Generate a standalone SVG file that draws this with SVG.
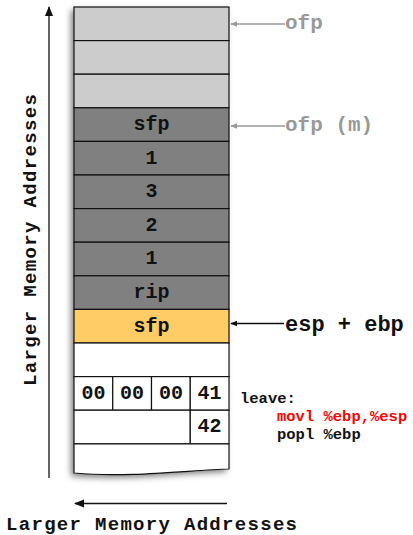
<svg xmlns="http://www.w3.org/2000/svg" width="413" height="535" viewBox="0 0 413 535">
<style>
.cell{stroke:#111;stroke-width:1.2}
.lg{fill:#cccccc}.dg{fill:#808080}.or{fill:#ffcc66}.wh{fill:#ffffff}
text{font-family:"Liberation Mono","Courier New",monospace;font-weight:bold}
.ct{font-size:20px;text-anchor:middle;fill:#111}
.gl{font-size:21px;fill:#999999}
.bl{font-size:22px;fill:#111}
.code{font-size:15.5px;fill:#111}
.red{fill:#ff0000}
.axis{font-size:19px;fill:#111}
</style>
<defs>
<filter id="sh" x="-20%" y="-10%" width="140%" height="120%">
<feDropShadow dx="-3" dy="3" stdDeviation="3" flood-color="#000" flood-opacity="0.5"/>
</filter>
<marker id="ab" viewBox="0 0 10 10" refX="9" refY="5" markerWidth="7" markerHeight="7" orient="auto-start-reverse" markerUnits="userSpaceOnUse"><path d="M0,1 L10,5 L0,9 z" fill="#111"/></marker>
<marker id="ag" viewBox="0 0 10 10" refX="9" refY="5" markerWidth="7" markerHeight="7" orient="auto-start-reverse" markerUnits="userSpaceOnUse"><path d="M0,1 L10,5 L0,9 z" fill="#999"/></marker>
<marker id="abig" viewBox="0 0 10 10" refX="9" refY="5" markerWidth="10" markerHeight="10" orient="auto-start-reverse" markerUnits="userSpaceOnUse"><path d="M0,1 L10,5 L0,9 z" fill="#111"/></marker>
</defs>
<path d="M74,7 H229 V469 C190,470 130,478 74,473 Z" fill="#fff" filter="url(#sh)"/>
<g id="row0"><rect class="cell lg" x="74" y="7" width="155" height="33.6"/></g>
<g id="row1"><rect class="cell lg" x="74" y="40.6" width="155" height="33.6"/></g>
<g id="row2"><rect class="cell lg" x="74" y="74.2" width="155" height="33.6"/></g>
<g id="row3"><rect class="cell dg" x="74" y="107.8" width="155" height="33.6"/><text class="ct" x="151.5" y="130">sfp</text></g>
<g id="row4"><rect class="cell dg" x="74" y="141.4" width="155" height="33.6"/><text class="ct" x="151.5" y="163.5">1</text></g>
<g id="row5"><rect class="cell dg" x="74" y="175" width="155" height="33.6"/><text class="ct" x="151.5" y="197">3</text></g>
<g id="row6"><rect class="cell dg" x="74" y="208.6" width="155" height="33.6"/><text class="ct" x="151.5" y="230.5">2</text></g>
<g id="row7"><rect class="cell dg" x="74" y="242.2" width="155" height="33.6"/><text class="ct" x="151.5" y="264">1</text></g>
<g id="row8"><rect class="cell dg" x="74" y="275.8" width="155" height="33.6"/><text class="ct" x="151.5" y="298">rip</text></g>
<g id="row9"><rect class="cell or" x="74" y="309.4" width="155" height="33.6"/><text class="ct" x="151.5" y="331.5">sfp</text></g>
<g id="row10"><rect class="cell wh" x="74" y="343" width="155" height="33.6"/></g>
<g id="row11">
<rect class="cell wh" x="74" y="376.6" width="38.75" height="33.6"/><text class="ct" x="93.4" y="398.5">00</text>
<rect class="cell wh" x="112.75" y="376.6" width="38.75" height="33.6"/><text class="ct" x="132.1" y="398.5">00</text>
<rect class="cell wh" x="151.5" y="376.6" width="38.75" height="33.6"/><text class="ct" x="170.9" y="398.5">00</text>
<rect class="cell wh" x="190.25" y="376.6" width="38.75" height="33.6"/><text class="ct" x="209.6" y="398.5">41</text>
</g>
<g id="row12">
<rect class="cell wh" x="74" y="410.2" width="116.25" height="33.6"/>
<rect class="cell wh" x="190.25" y="410.2" width="38.75" height="33.6"/><text class="ct" x="209.6" y="432">42</text>
</g>
<g id="row13"><path class="cell" d="M74,443.8 H229 V469 C190,470 130,478 74,473 Z" fill="#fff"/></g>
<g id="connectors">
<line x1="285" y1="24" x2="231" y2="24" stroke="#999" stroke-width="1.3" marker-end="url(#ag)"/>
<line x1="285" y1="126" x2="231" y2="126" stroke="#999" stroke-width="1.3" marker-end="url(#ag)"/>
<line x1="284" y1="323.5" x2="231" y2="323.5" stroke="#111" stroke-width="1.3" marker-end="url(#ab)"/>
<line x1="49" y1="478" x2="49" y2="7" stroke="#333" stroke-width="1.5" marker-end="url(#abig)"/>
<line x1="227" y1="503.5" x2="75" y2="503.5" stroke="#111" stroke-width="1.5" marker-end="url(#abig)"/>
</g>
<g id="label-ofp"><text class="gl" x="285" y="29">ofp</text></g>
<g id="label-ofpm"><text class="gl" x="285" y="131">ofp (m)</text></g>
<g id="label-espebp"><text class="bl" x="285" y="331">esp + ebp</text></g>
<g id="code">
<text class="code" x="240" y="403">leave:</text>
<text class="code red" x="277" y="421">movl %ebp,%esp</text>
<text class="code" x="277" y="439">popl %ebp</text>
</g>
<g id="axis-v"><text class="axis" x="-143" y="0" textLength="292" lengthAdjust="spacing" transform="translate(36,243) rotate(-90)">Larger Memory Addresses</text></g>
<g id="axis-h"><text class="axis" x="6" y="530" textLength="291" lengthAdjust="spacing">Larger Memory Addresses</text></g>
</svg>
